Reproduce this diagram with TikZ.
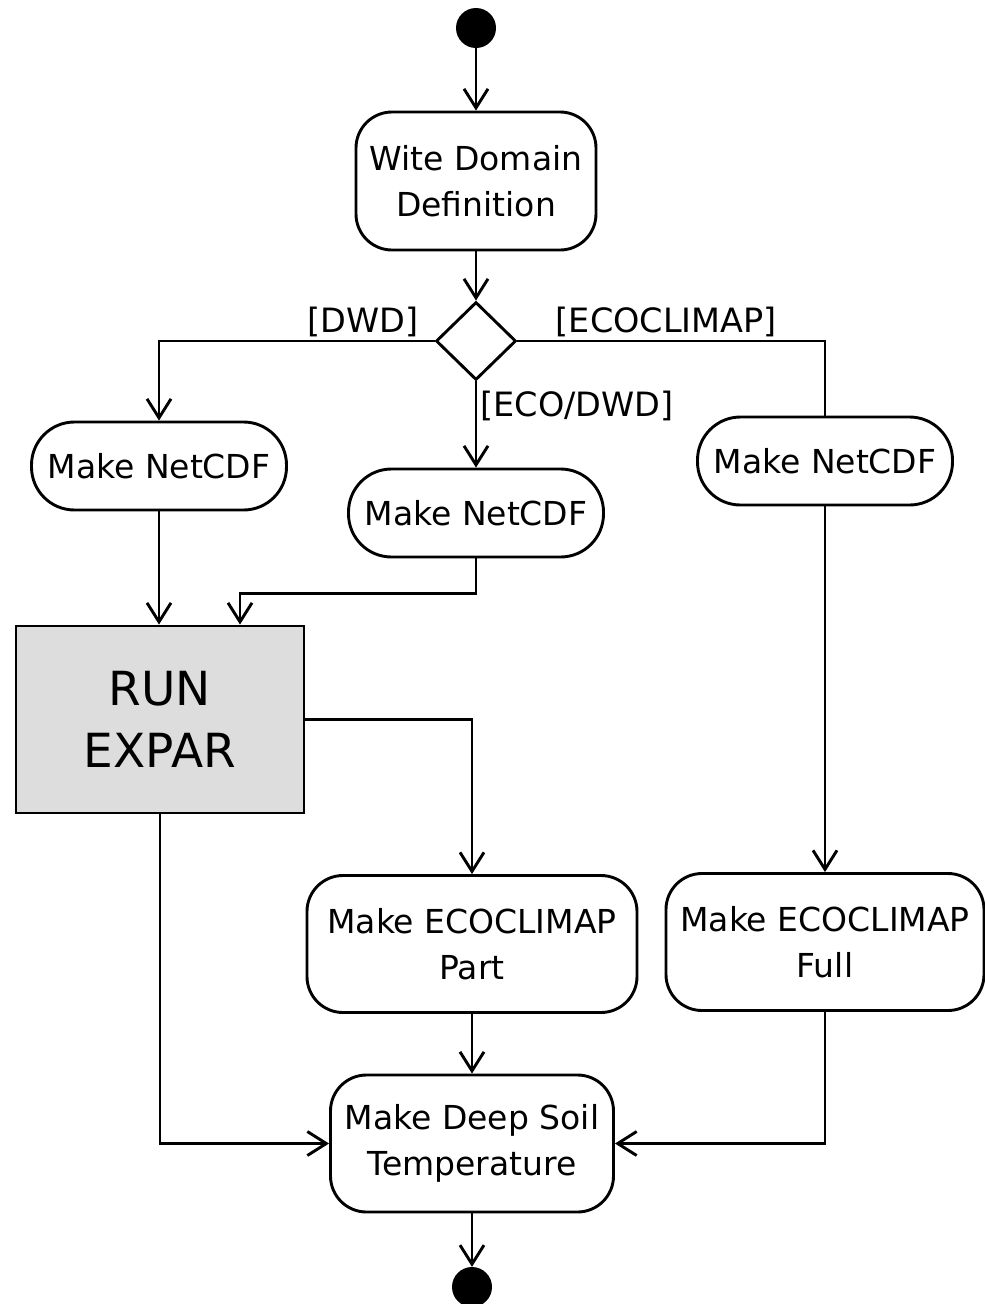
\documentclass[tikz,border=0pt]{standalone}
\usepackage{fontspec}
\setmainfont{DejaVu Sans}
\usetikzlibrary{arrows.meta,shapes.geometric,positioning}
\definecolor{runfill}{RGB}{221,221,221}
\tikzset{
  basic/.style    = {draw, line width=2.9pt, align=center, inner sep=0pt,
                     font=\fontsize{33}{46}\selectfont},
  activity/.style = {basic, rectangle, rounded corners=36pt},
  pill/.style     = {basic, rectangle, rounded corners=43pt,
                     minimum width=255pt, minimum height=88pt},
  process/.style  = {basic, rectangle, fill=runfill,
                     font=\fontsize{47}{62}\selectfont},
  decision/.style = {basic, diamond, aspect=1, minimum width=80pt, minimum height=78pt},
  startend/.style = {circle, fill=black, minimum size=40pt, inner sep=0pt},
  guard/.style    = {font=\fontsize{33.5}{40}\selectfont, inner sep=3pt},
  flow/.style     = {line width=2.9pt, -{Straight Barb[length=19pt,width=24pt]}},
  line/.style     = {line width=2.9pt}
}

\begin{document}
\begin{tikzpicture}[x=1pt, y=-1pt]
\useasboundingbox (0,0) rectangle (985,1304);

% start and the first activity
\node[startend] (start) at (476,28) {};
\node[activity, minimum width=240pt, minimum height=138pt] (wite) at (476,181)
  {Wite Domain\\Definition};
\node[decision] (dec) at (476,341) {};

% the three NetCDF branches
\node[pill] (ncL) at (159,466) {Make NetCDF};
\node[pill] (ncM) at (476,513) {Make NetCDF};
\node[pill] (ncR) at (825,461) {Make NetCDF};

\node[process, minimum width=288pt, minimum height=187pt] (run) at (160,719.5)
  {RUN\\EXPAR};

% ECOCLIMAP and the last step
\node[activity, minimum width=330pt, minimum height=137pt] (part) at (472,944)
  {Make ECOCLIMAP\\Part};
\node[activity, minimum width=318pt, minimum height=137pt] (full) at (825,942)
  {Make ECOCLIMAP\\Full};
\node[activity, minimum width=283pt, minimum height=137pt] (soil) at (472,1143.5)
  {Make Deep Soil\\Temperature};
\node[startend] (end) at (472,1287) {};

% connectors
\draw[flow] (start) -- (wite);
\draw[flow] (wite) -- (dec);
\draw[flow] (dec.west) -| (ncL.north)
  node[guard, above, pos=0.13] (gdwd) {[DWD]};
\draw[line] (dec.east) -| (ncR.north)
  node[guard, above, pos=0.242] (geco) {[ECOCLIMAP]};
\draw[flow] (dec.south) -- (ncM.north)
  node[guard, below right, pos=0, yshift=-5pt] (gmix) {[ECO/DWD]};

\draw[flow] (ncL.south) -- (ncL.south |- run.north);
\draw[flow] (ncM.south) -- ++(0,35) -| ([xshift=80pt]run.north);
\draw[flow] (run.east) -| (part.north);
\draw[flow] (ncR.south) -- (full.north);

\draw[flow] (part.south) -- (soil.north);
\draw[flow] (run.south) |- (soil.west);
\draw[flow] (full.south) |- (soil.east);
\draw[flow] (soil.south) -- (end);

\end{tikzpicture}
\end{document}
